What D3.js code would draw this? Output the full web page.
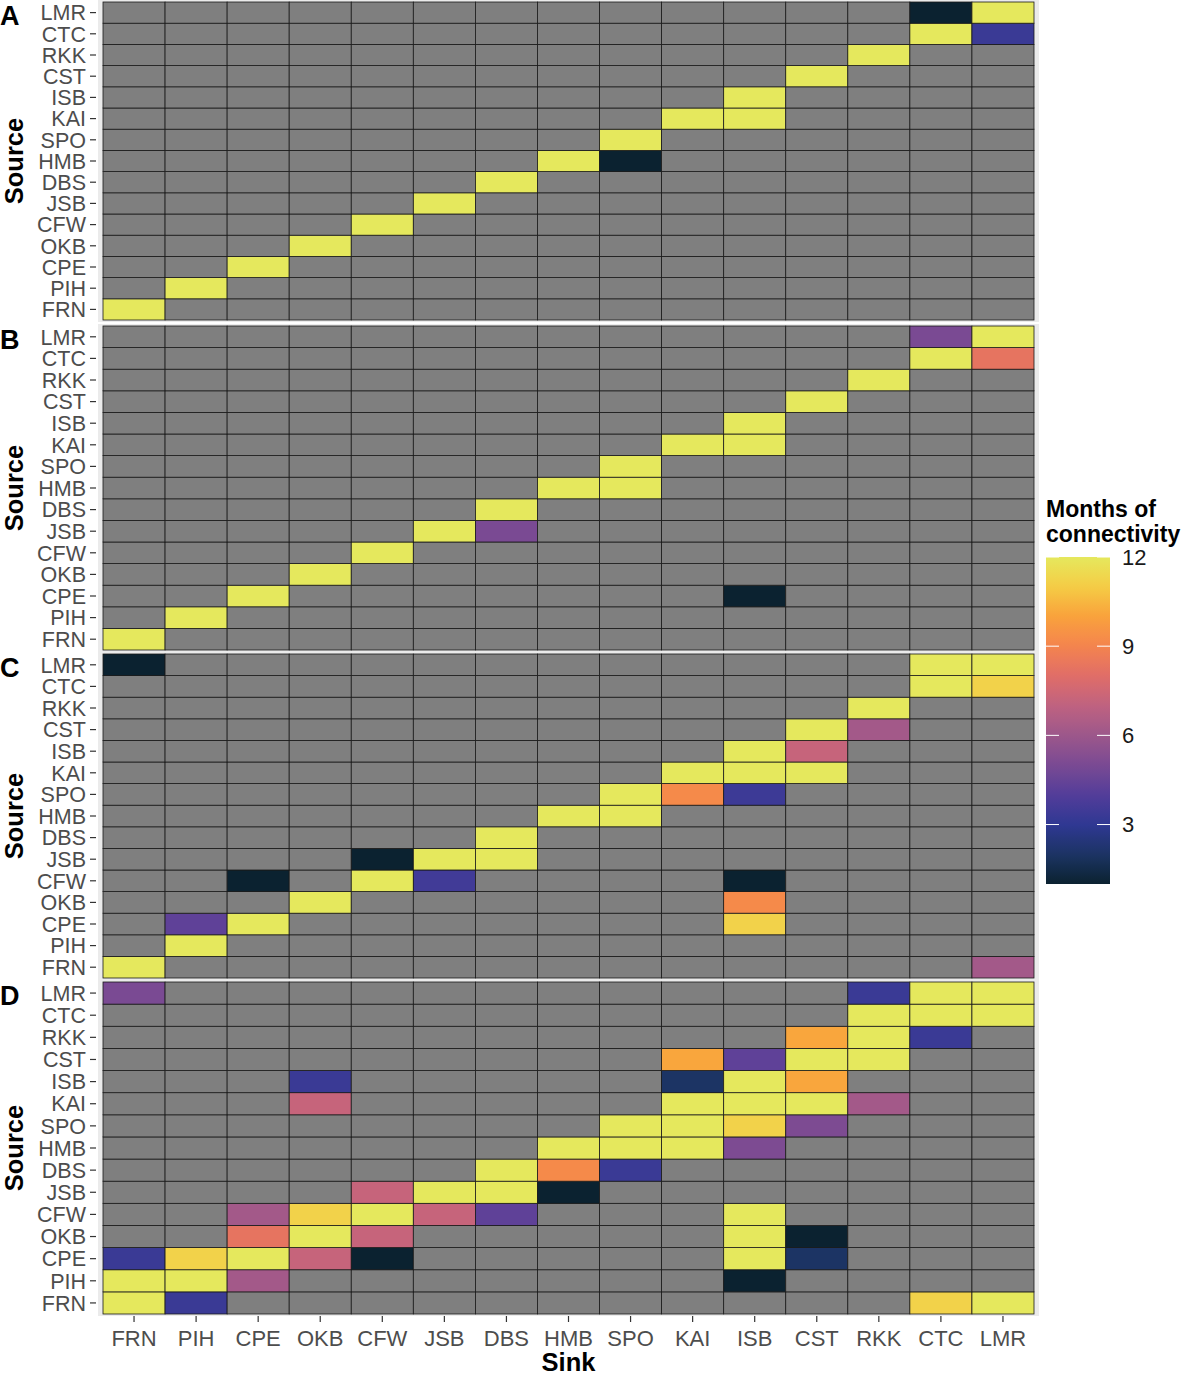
<!DOCTYPE html>
<html>
<head>
<meta charset="utf-8">
<script src="https://cdn.jsdelivr.net/npm/d3@7"></script>
<style>
  body { margin: 0; background: #fff; }
  text { font-family: "Liberation Sans", Arial, sans-serif; }
</style>
</head>
<body>
<svg></svg>
<script>
// sites, in the order used on both axes (bottom to top for Source)
const sites = ["FRN", "PIH", "CPE", "OKB", "CFW", "JSB", "DBS", "HMB", "SPO", "KAI", "ISB", "CST", "RKK", "CTC", "LMR"];
const panelNames = ["A", "B", "C", "D"];
const legendTicks = [3, 6, 9, 12];

// [source, sink, months of connectivity]
const panelA = [
  ["LMR", "CTC", 1], ["LMR", "LMR", 12],
  ["CTC", "CTC", 12], ["CTC", "LMR", 3.3],
  ["RKK", "RKK", 12], ["CST", "CST", 12], ["ISB", "ISB", 12],
  ["KAI", "KAI", 12], ["KAI", "ISB", 12],
  ["SPO", "SPO", 12],
  ["HMB", "HMB", 12], ["HMB", "SPO", 1],
  ["DBS", "DBS", 12], ["JSB", "JSB", 12], ["CFW", "CFW", 12],
  ["OKB", "OKB", 12], ["CPE", "CPE", 12], ["PIH", "PIH", 12], ["FRN", "FRN", 12]
];
const panelB = [
  ["LMR", "CTC", 5], ["LMR", "LMR", 12],
  ["CTC", "CTC", 12], ["CTC", "LMR", 8.3],
  ["RKK", "RKK", 12], ["CST", "CST", 12], ["ISB", "ISB", 12],
  ["KAI", "KAI", 12], ["KAI", "ISB", 12],
  ["SPO", "SPO", 12],
  ["HMB", "HMB", 12], ["HMB", "SPO", 12],
  ["DBS", "DBS", 12],
  ["JSB", "JSB", 12], ["JSB", "DBS", 5],
  ["CFW", "CFW", 12], ["OKB", "OKB", 12],
  ["CPE", "CPE", 12], ["CPE", "ISB", 1],
  ["PIH", "PIH", 12], ["FRN", "FRN", 12]
];
const panelC = [
  ["LMR", "FRN", 1], ["LMR", "CTC", 12], ["LMR", "LMR", 12],
  ["CTC", "CTC", 12], ["CTC", "LMR", 11.2],
  ["RKK", "RKK", 12],
  ["CST", "CST", 12], ["CST", "RKK", 6.2],
  ["ISB", "ISB", 12], ["ISB", "CST", 7.2],
  ["KAI", "KAI", 12], ["KAI", "ISB", 12], ["KAI", "CST", 12],
  ["SPO", "SPO", 12], ["SPO", "KAI", 9.2], ["SPO", "ISB", 3.4],
  ["HMB", "HMB", 12], ["HMB", "SPO", 12],
  ["DBS", "DBS", 12],
  ["JSB", "CFW", 1], ["JSB", "JSB", 12], ["JSB", "DBS", 12],
  ["CFW", "CPE", 1], ["CFW", "CFW", 12], ["CFW", "JSB", 3.5], ["CFW", "ISB", 1],
  ["OKB", "OKB", 12], ["OKB", "ISB", 9.2],
  ["CPE", "PIH", 4.3], ["CPE", "CPE", 12], ["CPE", "ISB", 11.2],
  ["PIH", "PIH", 12],
  ["FRN", "FRN", 12], ["FRN", "LMR", 6.2]
];
const panelD = [
  ["LMR", "FRN", 5], ["LMR", "RKK", 3.3], ["LMR", "CTC", 12], ["LMR", "LMR", 12],
  ["CTC", "RKK", 12], ["CTC", "CTC", 12], ["CTC", "LMR", 12],
  ["RKK", "CST", 10.1], ["RKK", "RKK", 12], ["RKK", "CTC", 3.3],
  ["CST", "KAI", 10.1], ["CST", "ISB", 4.3], ["CST", "CST", 12], ["CST", "RKK", 12],
  ["ISB", "OKB", 3.3], ["ISB", "KAI", 2], ["ISB", "ISB", 12], ["ISB", "CST", 10.1],
  ["KAI", "OKB", 7.2], ["KAI", "KAI", 12], ["KAI", "ISB", 12], ["KAI", "CST", 12], ["KAI", "RKK", 6.2],
  ["SPO", "SPO", 12], ["SPO", "KAI", 12], ["SPO", "ISB", 11.2], ["SPO", "CST", 5.1],
  ["HMB", "HMB", 12], ["HMB", "SPO", 12], ["HMB", "KAI", 12], ["HMB", "ISB", 5.1],
  ["DBS", "DBS", 12], ["DBS", "HMB", 9.2], ["DBS", "SPO", 3.3],
  ["JSB", "CFW", 7.2], ["JSB", "JSB", 12], ["JSB", "DBS", 12], ["JSB", "HMB", 1],
  ["CFW", "CPE", 6.2], ["CFW", "OKB", 11.2], ["CFW", "CFW", 12], ["CFW", "JSB", 7.2], ["CFW", "DBS", 4.3], ["CFW", "ISB", 12],
  ["OKB", "CPE", 8.3], ["OKB", "OKB", 12], ["OKB", "CFW", 7.2], ["OKB", "ISB", 12], ["OKB", "CST", 1],
  ["CPE", "FRN", 3.3], ["CPE", "PIH", 11.2], ["CPE", "CPE", 12], ["CPE", "OKB", 7.2], ["CPE", "CFW", 1], ["CPE", "ISB", 12], ["CPE", "CST", 2],
  ["PIH", "FRN", 12], ["PIH", "PIH", 12], ["PIH", "CPE", 6.2], ["PIH", "ISB", 1],
  ["FRN", "FRN", 12], ["FRN", "PIH", 3.3], ["FRN", "CTC", 11.2], ["FRN", "LMR", 12]
];
const panelData = [panelA, panelB, panelC, panelD];

// thermal-like palette
const paletteStops = [1, 2, 3, 4, 5, 6, 7, 8, 9, 10, 11, 12];
const paletteColors = ["#0b2230", "#1c3464", "#2f3893", "#533d9a", "#7a4a93", "#9c578b",
  "#bf6280", "#e06d68", "#f4844e", "#f9a23c", "#f5cc45", "#e5e85d"];

const width = 1181;
const height = 1375;
// tile area of each panel (top, bottom)
const panelBox = [[2, 320], [326, 650], [654, 978], [982, 1314]];
const gridLeft = 103, gridRight = 1034;

const svg = d3.select("svg").attr("width", width).attr("height", height);

const color = d3.scaleLinear().domain(paletteStops).range(paletteColors).interpolate(d3.interpolateRgb);

const x = d3.scaleBand().domain(sites).range([gridLeft, gridRight]).padding(0);

panelNames.forEach(function (name, i) {
  const [top, bottom] = panelBox[i];
  const y = d3.scaleBand().domain(sites.slice().reverse()).range([top, bottom]).padding(0);
  const g = svg.append("g");

  // panel background
  g.append("rect")
    .attr("x", gridLeft - 5).attr("y", top - 2)
    .attr("width", gridRight - gridLeft + 10).attr("height", bottom - top + 4)
    .attr("fill", "#ebebeb");

  const lookup = new Map(panelData[i].map((d) => [d[0] + "|" + d[1], d[2]]));
  const cells = d3.cross(sites, sites).map(([src, snk]) => ({ src, snk, v: lookup.get(src + "|" + snk) }));

  g.selectAll(".cell")
    .data(cells)
    .enter()
    .append("rect")
    .attr("x", (d) => x(d.snk))
    .attr("y", (d) => y(d.src))
    .attr("width", x.bandwidth())
    .attr("height", y.bandwidth())
    .attr("fill", (d) => (d.v == null ? "#7f7f7f" : color(d.v)))
    .attr("stroke", "#1a1a1a")
    .attr("stroke-width", 0.8);

  // eje Y
  const ay = g.append("g")
    .attr("transform", `translate(${gridLeft - 7},0)`)
    .call(d3.axisLeft(y).tickSize(6).tickPadding(4));
  ay.select(".domain").remove();
  ay.selectAll(".tick line").attr("stroke", "#333").attr("stroke-width", 1.2);
  ay.selectAll(".tick text")
    .attr("fill", "#4d4d4d")
    .style("font-size", "21.5px")
    .attr("dy", "0.36em");

  // letra del panel
  g.append("text")
    .attr("x", 0).attr("y", top + 23)
    .style("font-size", "27px").style("font-weight", "bold")
    .text(name);

  // Source
  g.append("text")
    .attr("transform", `translate(23,${(top + bottom) / 2}) rotate(-90)`)
    .style("text-anchor", "middle")
    .style("font-size", "25.5px").style("font-weight", "bold")
    .text("Source");
});

// eje X
const ax = svg.append("g")
  .attr("transform", `translate(0,${panelBox[3][1] + 2})`)
  .call(d3.axisBottom(x).tickSize(6).tickPadding(8));
ax.select(".domain").remove();
ax.selectAll(".tick line").attr("stroke", "#333").attr("stroke-width", 1.2);
ax.selectAll(".tick text")
  .attr("fill", "#4d4d4d")
  .style("font-size", "22px");

svg.append("text")
  .attr("x", (gridLeft + gridRight) / 2).attr("y", 1371)
  .style("text-anchor", "middle")
  .style("font-size", "25.5px").style("font-weight", "bold")
  .text("Sink");

// leyenda
const legX = 1046, legW = 64, legTop = 557, legBottom = 884;
const ly = d3.scaleLinear().domain([1, 12]).range([legBottom, legTop]);

const grad = svg.append("defs").append("linearGradient")
  .attr("id", "legGrad").attr("x1", 0).attr("x2", 0).attr("y1", 1).attr("y2", 0);
d3.range(0, 1.0001, 0.02).forEach(function (t) {
  grad.append("stop").attr("offset", t).attr("stop-color", color(1 + 11 * t));
});

svg.append("rect")
  .attr("x", legX).attr("y", legTop)
  .attr("width", legW).attr("height", legBottom - legTop)
  .attr("fill", "url(#legGrad)");

svg.selectAll(".legtick")
  .data(legendTicks)
  .enter()
  .append("g")
  .each(function (d) {
    const gg = d3.select(this);
    gg.append("line").attr("x1", legX).attr("x2", legX + 13).attr("y1", ly(d)).attr("y2", ly(d))
      .attr("stroke", "#fff").attr("stroke-width", 1);
    gg.append("line").attr("x1", legX + legW - 13).attr("x2", legX + legW).attr("y1", ly(d)).attr("y2", ly(d))
      .attr("stroke", "#fff").attr("stroke-width", 1);
    gg.append("text").attr("x", legX + legW + 12).attr("y", ly(d)).attr("dy", "0.36em")
      .style("font-size", "22px").attr("fill", "#1a1a1a").text(d);
  });

svg.append("text").attr("x", legX).attr("y", 517)
  .style("font-size", "23px").style("font-weight", "bold").text("Months of");
svg.append("text").attr("x", legX).attr("y", 542)
  .style("font-size", "23px").style("font-weight", "bold").text("connectivity");
</script>
</body>
</html>
